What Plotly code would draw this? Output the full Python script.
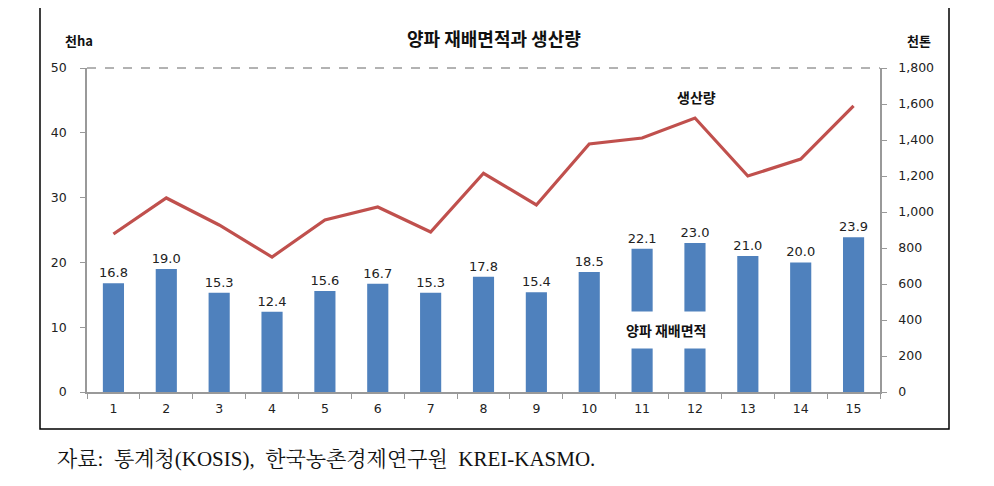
import plotly.graph_objects as go

categories = [str(i) for i in range(1, 16)]
area = [16.8, 19.0, 15.3, 12.4, 15.6, 16.7, 15.3, 17.8, 15.4, 18.5, 22.1, 23.0, 21.0, 20.0, 23.9]
production = [878, 1078, 928, 750, 956, 1028, 889, 1215, 1039, 1378, 1411, 1522, 1200, 1294, 1590]
left_ticks = [0, 10, 20, 30, 40, 50]
right_ticks = [0, 200, 400, 600, 800, 1000, 1200, 1400, 1600, 1800]

OFF = 8  # page body margin
W, H = 994 - OFF, 486 - OFF
L, R, T, B = 87 - OFF, 114, 68 - OFF, 94
pw, ph = W - L - R, H - T - B

def px(x):  # screen x -> paper
    return (x - OFF - L) / pw

def py(y):  # screen y -> paper
    return (H - B - (y - OFF)) / ph

tickfont = dict(family="DejaVu Sans", size=12.5, color="#222")
kfont = "Noto Sans CJK KR"

fig = go.Figure()
fig.add_trace(go.Bar(
    x=categories, y=area, width=0.4, marker=dict(color="#4F81BD", line=dict(width=0)),
    text=[f"{v:.1f}" for v in area], textposition="outside", cliponaxis=False,
    constraintext="none",
    textfont=dict(family="DejaVu Sans", size=13, color="#222"), yaxis="y", showlegend=False))
fig.add_trace(go.Scatter(
    x=categories, y=production, mode="lines", line=dict(color="#C0504D", width=3.2),
    yaxis="y2", showlegend=False))

fig.update_layout(
    width=W, height=H, margin=dict(l=L, r=R, t=T, b=B),
    paper_bgcolor="white", plot_bgcolor="white",
    xaxis=dict(type="category", range=[-0.5, 14.5], showline=True, linecolor="#999", linewidth=1.5,
               ticks="outside", tickson="boundaries", ticklen=5, tickcolor="#999",
               tickfont=tickfont, showgrid=False, zeroline=False, ticklabelstandoff=4),
    yaxis=dict(range=[0, 50], tickvals=left_ticks, showline=True, linecolor="#999", linewidth=1.5,
               ticks="outside", ticklen=5, tickcolor="#999", tickfont=tickfont, showgrid=False,
               zeroline=False, ticklabelstandoff=11),
    yaxis2=dict(range=[0, 1800], tickvals=right_ticks, tickformat=",", overlaying="y", side="right",
                showline=True, linecolor="#999", linewidth=1.5, ticks="outside", ticklen=5,
                tickcolor="#999", tickfont=tickfont, showgrid=False, zeroline=False,
                ticklabelstandoff=9),
    bargap=0.6,
)

# top dashed line at 50
fig.add_shape(type="line", xref="paper", yref="paper", x0=0, x1=1, y0=1, y1=1,
              line=dict(color="#666", width=1, dash="dash"))
# outer frame
fig.add_shape(type="rect", xref="paper", yref="paper", x0=px(40), x1=px(949), y0=py(429), y1=py(6),
              line=dict(color="black", width=1.5), fillcolor="rgba(0,0,0,0)", layer="below")

ann = [
    dict(text="<b>양파 재배면적과 생산량</b>", x=px(494), y=py(38), size=18),
    dict(text="<b>천ha</b>", x=px(79), y=py(40), size=13),
    dict(text="<b>천톤</b>", x=px(919), y=py(40), size=13),
    dict(text="<b>생산량</b>", x=px(696), y=py(97), size=14),
]
for a in ann:
    fig.add_annotation(text=a["text"], x=a["x"], y=a["y"], xref="paper", yref="paper",
                       showarrow=False, font=dict(family=kfont, size=a["size"], color="#111"),
                       xanchor="center", yanchor="middle")
fig.add_annotation(text="<b>양파 재배면적</b>", x=px(666), y=py(330), xref="paper", yref="paper",
                   showarrow=False, font=dict(family=kfont, size=14, color="#111"),
                   bgcolor="white", borderpad=8, xanchor="center", yanchor="middle")
fig.add_annotation(text="자료:  통계청(KOSIS),  한국농촌경제연구원  KREI-KASMO.", x=px(55), y=py(459),
                   xref="paper", yref="paper", showarrow=False, xanchor="left", yanchor="middle",
                   font=dict(family="Liberation Serif, Noto Serif CJK KR, serif", size=21, color="#111"))

fig.write_html("out.html")
